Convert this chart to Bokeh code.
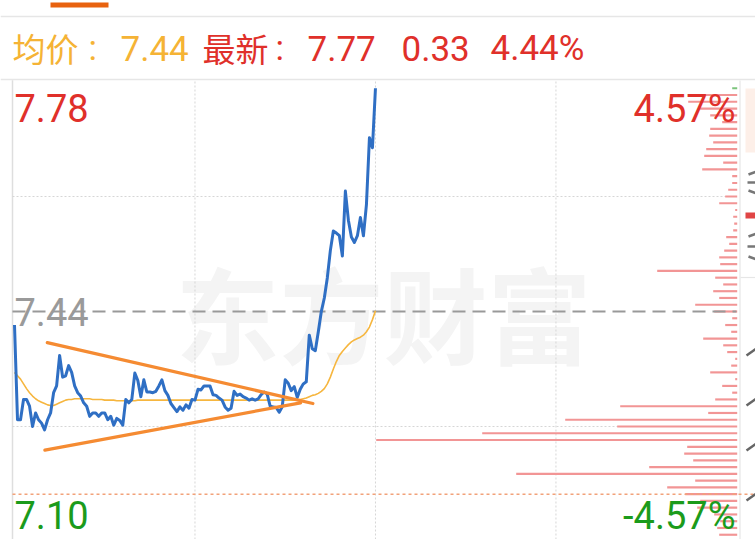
import math
from bokeh.plotting import figure
from bokeh.models import Range1d
from bokeh.embed import file_html
from bokeh.resources import INLINE
from bokeh.core.properties import value

# ---------------- data ----------------
PRE_CLOSE = 7.44
TOP_PRICE = 7.78
BOTTOM_PRICE = 7.10
RANGE_PCT = "4.57%"
COST_LINE = 7.17
GRID_PRICES = [7.61, 7.27]
GRID_MINUTES = [60, 120, 180]
SESSION_MINUTES = 240

header_avg_label = "均价"
header_avg_value = "7.44"
header_last_label = "最新"
header_last_value = "7.77"
header_change = "0.33"
header_change_pct = "4.44%"
watermark = "东方财富"

minutes = list(range(121))
price = [7.42, 7.28, 7.28, 7.31, 7.31, 7.30, 7.27, 7.29, 7.28, 7.275, 7.265, 7.28, 7.29, 7.32, 7.33, 7.375, 7.343, 7.345, 7.36, 7.35,
         7.33, 7.32, 7.315, 7.305, 7.30, 7.285, 7.29, 7.29, 7.285, 7.29, 7.29, 7.28, 7.285, 7.272, 7.282, 7.279, 7.272, 7.31, 7.305, 7.31,
         7.349, 7.338, 7.314, 7.339, 7.321, 7.321, 7.32, 7.322, 7.33, 7.339, 7.323, 7.316, 7.304, 7.298, 7.292, 7.299, 7.294, 7.302, 7.297, 7.31,
         7.309, 7.325, 7.324, 7.33, 7.33, 7.33, 7.317, 7.316, 7.312, 7.309, 7.299, 7.294, 7.297, 7.322, 7.316, 7.318, 7.314, 7.312, 7.309, 7.311,
         7.309, 7.311, 7.317, 7.321, 7.318, 7.30, 7.299, 7.298, 7.291, 7.299, 7.339, 7.334, 7.323, 7.329, 7.313, 7.325, 7.333, 7.336, 7.405, 7.385,
         7.382, 7.41, 7.44, 7.46, 7.49, 7.53, 7.559, 7.556, 7.552, 7.522, 7.618, 7.575, 7.55, 7.542, 7.552, 7.579, 7.552, 7.598, 7.697, 7.682, 7.77]

avg_price = [7.35, 7.345, 7.34, 7.333, 7.326, 7.32, 7.315, 7.311, 7.308, 7.306, 7.304, 7.302, 7.301, 7.301, 7.303, 7.305, 7.307, 7.309, 7.31, 7.31,
             7.311, 7.311, 7.311, 7.311, 7.311, 7.311, 7.31, 7.31, 7.31, 7.31, 7.309, 7.309, 7.309, 7.309, 7.308, 7.308, 7.308, 7.308, 7.308, 7.308,
             7.308, 7.309, 7.309, 7.309, 7.309, 7.309, 7.309, 7.309, 7.309, 7.309, 7.309, 7.309, 7.309, 7.309, 7.309, 7.309, 7.309, 7.309, 7.309, 7.309,
             7.309, 7.309, 7.309, 7.309, 7.309, 7.309, 7.309, 7.309, 7.309, 7.309, 7.309, 7.309, 7.309, 7.309, 7.309, 7.309, 7.309, 7.309, 7.309, 7.309,
             7.309, 7.309, 7.309, 7.309, 7.309, 7.309, 7.309, 7.309, 7.309, 7.309, 7.309, 7.309, 7.309, 7.309, 7.31, 7.31, 7.311, 7.312, 7.314, 7.316,
             7.317, 7.319, 7.322, 7.326, 7.333, 7.343, 7.355, 7.366, 7.375, 7.381, 7.386, 7.391, 7.395, 7.398, 7.40, 7.402, 7.405, 7.41, 7.417, 7.428, 7.441]

trend_upper_min = [10.9, 99.2]
trend_upper_price = [7.394, 7.304]
trend_lower_min = [10.1, 95.1]
trend_lower_price = [7.235, 7.305]

profile_price = [7.77, 7.76, 7.75, 7.74, 7.73, 7.72, 7.71, 7.70, 7.69, 7.68, 7.67, 7.66, 7.65, 7.64, 7.63, 7.62, 7.61, 7.60,
                 7.59, 7.58, 7.57, 7.56, 7.55, 7.54, 7.53, 7.52, 7.51, 7.50, 7.49, 7.48, 7.47, 7.46, 7.45, 7.44, 7.43, 7.42,
                 7.41, 7.40, 7.39, 7.38, 7.37, 7.36, 7.35, 7.34, 7.33, 7.32, 7.31, 7.30, 7.29, 7.28, 7.27, 7.26, 7.25, 7.24,
                 7.23, 7.22, 7.21, 7.20, 7.19, 7.18, 7.17, 7.16, 7.15, 7.14, 7.13, 7.12, 7.11]
profile_volume = [5, 40, 49, 37, 27, 15, 27, 28, 24, 31, 33, 14, 35, 5, 5, 9, 12, 18,
                  2, 4, 3, 4, 11, 8, 13, 18, 17, 80, 22, 14, 24, 18, 42, 23, 5, 12,
                  6, 34, 14, 10, 2, 6, 27, 2, 15, 5, 22, 117, 29, 172, 120, 255, 361, 50,
                  53, 44, 88, 221, 42, 70, 52, 37, 40, 23, 17, 20, 18]
profile_side = ["down"] + ["up"] * 66

# ---------------- layout (pixels) ----------------
W, H = 755, 539
X_MIN0 = 14.0        # page x of minute 0
PX_PER_MIN = 3.008
Y_PRE = 311.0        # page y of pre-close
PX_PER_UNIT = 676.5
VOL_ZERO = 736.7     # page x where profile bars end

x_range = Range1d(-X_MIN0 / PX_PER_MIN, (W - X_MIN0) / PX_PER_MIN)
y_range = Range1d(PRE_CLOSE - (H - Y_PRE) / PX_PER_UNIT, PRE_CLOSE + Y_PRE / PX_PER_UNIT)

p = figure(width=W, height=H, x_range=x_range, y_range=y_range,
           output_backend="svg", toolbar_location=None,
           x_axis_location=None, y_axis_location=None,
           min_border=0, min_border_left=0, min_border_right=0, min_border_top=0, min_border_bottom=0)
p.outline_line_color = None
p.grid.visible = False
p.background_fill_color = "white"
p.border_fill_color = "white"

p.extra_x_ranges = {"px": Range1d(0, W), "vol": Range1d(VOL_ZERO, VOL_ZERO - W)}
p.extra_y_ranges = {"px": Range1d(H, 0)}

PX = dict(x_range_name="px", y_range_name="px")

# watermark
p.text(x=[383], y=[311], text=[watermark], text_font=value("Noto Sans CJK SC"), text_font_size="104px",
       text_font_style="bold", text_color="#f4f4f4", text_align="center", text_baseline="middle", **PX)

# top tab and header lines
p.quad(left=[50], right=[108], top=[2], bottom=[7], fill_color="#e8620f", line_color=None, **PX)
p.segment(x0=[0, 0], y0=[16, 79], x1=[W, W], y1=[16, 79], line_color="#e6e6e6", line_width=1.5, **PX)

# chart frame lines
left_edge = (12 - X_MIN0) / PX_PER_MIN
p.segment(x0=[left_edge], y0=[y_range.start], x1=[left_edge], y1=[TOP_PRICE + 0.002],
          line_color="#dedede", line_width=1.5)
p.segment(x0=[739.5], y0=[80], x1=[739.5], y1=[H], line_color="#e6e6e6", line_width=1.2, **PX)

# grid
p.segment(x0=[left_edge] * len(GRID_PRICES), y0=GRID_PRICES, x1=[SESSION_MINUTES] * len(GRID_PRICES), y1=GRID_PRICES,
          line_color="#d6d6d6", line_width=1, line_dash="2 2")
p.segment(x0=GRID_MINUTES, y0=[y_range.start] * 3, x1=GRID_MINUTES, y1=[TOP_PRICE + 0.002] * 3,
          line_color="#d6d6d6", line_width=1, line_dash="2 2")

# volume profile
colors = ["#f29595" if s == "up" else "#7cc47c" for s in profile_side]
p.hbar(y=profile_price, left=profile_volume, right=0, height=0.0032, fill_color=colors, line_color=None,
       x_range_name="vol")

# reference lines
p.segment(x0=[left_edge], y0=[PRE_CLOSE], x1=[SESSION_MINUTES], y1=[PRE_CLOSE],
          line_color="#999999", line_width=2, line_dash="13 7")
p.segment(x0=[left_edge], y0=[COST_LINE], x1=[x_range.end], y1=[COST_LINE],
          line_color="#f2a27a", line_width=1.5, line_dash="3 3")

# average and price
p.line(minutes, avg_price, line_color="#f6b63f", line_width=1.6)
p.line(minutes, price, line_color="#2f6fc4", line_width=3, line_join="round")

# trend lines
p.line(trend_upper_min, trend_upper_price, line_color="#f58b32", line_width=3.2, line_cap="round")
p.line(trend_lower_min, trend_lower_price, line_color="#f58b32", line_width=3.2, line_cap="round")

# right-side panel fragments (cut off at the window edge)
p.quad(left=[745], right=[760], top=[88], bottom=[152], fill_color="#fdefe8", line_color=None, **PX)
p.quad(left=[745], right=[760], top=[212], bottom=[218], fill_color="#e04545", line_color=None, **PX)
p.segment(x0=[740], y0=[277], x1=[W], y1=[277], line_color="#e6e6e6", line_width=1.2, **PX)
p.segment(x0=[748, 747, 748, 748, 747, 748], y0=[174, 182, 190, 236, 246, 256],
          x1=[756, 756, 756, 756, 756, 756], y1=[171, 182, 193, 233, 246, 259],
          line_color="#777777", line_width=2.5, **PX)
p.segment(x0=[746, 746, 746, 746], y0=[355, 405, 450, 500], x1=[756, 756, 756, 756], y1=[348, 398, 443, 493],
          line_color="#666666", line_width=2.5, **PX)

# price labels
NUM_FONT = value("Roboto")
LBL = "38px"
p.text(x=[14], y=[107.5], text=[f"{TOP_PRICE:.2f}"], text_font=NUM_FONT, text_font_size=LBL,
       text_color="#e0302a", text_baseline="middle", **PX)
p.text(x=[14], y=[311.5], text=[f"{PRE_CLOSE:.2f}"], text_font=NUM_FONT, text_font_size=LBL,
       text_color="#9a9a9a", text_baseline="middle", **PX)
p.text(x=[14], y=[514.5], text=[f"{BOTTOM_PRICE:.2f}"], text_font=NUM_FONT, text_font_size=LBL,
       text_color="#1b9b1b", text_baseline="middle", **PX)
p.text(x=[735], y=[108], text=[RANGE_PCT], text_font=NUM_FONT, text_font_size=LBL,
       text_color="#e0302a", text_baseline="middle", text_align="right", **PX)
p.text(x=[735], y=[515], text=["-" + RANGE_PCT], text_font=NUM_FONT, text_font_size=LBL,
       text_color="#1b9b1b", text_baseline="middle", text_align="right", **PX)

# header
CJK = value("Noto Sans CJK SC")
HY = 47.5
p.text(x=[12], y=[HY], text=[header_avg_label], text_font=CJK, text_font_size="33px",
       text_color="#f5b335", text_baseline="middle", **PX)
p.text(x=[88, 120], y=[HY, HY], text=[":", header_avg_value], text_font=NUM_FONT, text_font_size="35px",
       text_color="#f5b335", text_baseline="middle", **PX)
p.text(x=[202], y=[HY], text=[header_last_label], text_font=CJK, text_font_size="33px",
       text_color="#e0302a", text_baseline="middle", **PX)
p.text(x=[275, 307, 401, 490], y=[HY] * 4, text=[":", header_last_value, header_change, header_change_pct],
       text_font=NUM_FONT, text_font_size="35px", text_color="#e0302a", text_baseline="middle", **PX)

open("out.html", "w").write(file_html(p, INLINE))
